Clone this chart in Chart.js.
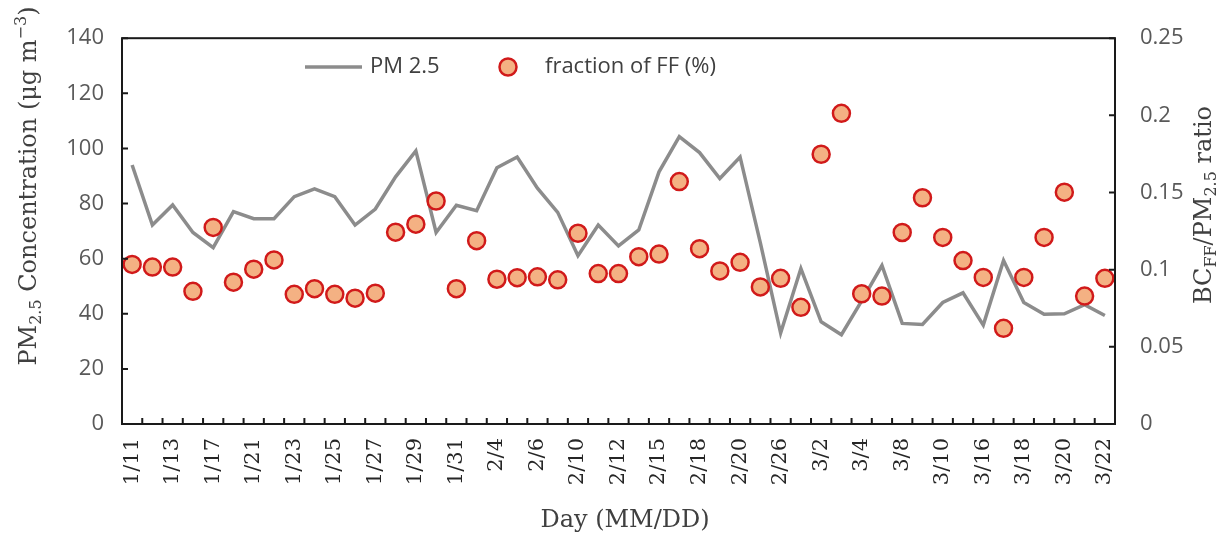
<!DOCTYPE html>
<html>
<head>
<meta charset="utf-8">
<script src="https://cdn.jsdelivr.net/npm/chart.js@4.4.1/dist/chart.umd.min.js"></script>
<style>
  html, body { margin: 0; padding: 0; background: #fff; }
  #wrap { width: 1224px; height: 540px; }
</style>
</head>
<body>
<div id="wrap"><canvas id="chart" width="1224" height="540"></canvas></div>
<script>
const days = ['1/11', '1/12', '1/13', '1/15', '1/17', '1/19', '1/21', '1/22', '1/23', '1/24',
    '1/25', '1/26', '1/27', '1/28', '1/29', '1/30', '1/31', '2/1', '2/4', '2/5',
    '2/6', '2/7', '2/10', '2/11', '2/12', '2/14', '2/15', '2/16', '2/18', '2/19',
    '2/20', '2/22', '2/26', '2/28', '3/2', '3/3', '3/4', '3/6', '3/8', '3/9',
    '3/10', '3/12', '3/16', '3/17', '3/18', '3/19', '3/20', '3/21', '3/22'];

const pm25 = [94, 72.2, 79.5, 69.5, 64, 77.1, 74.5, 74.5, 82.5, 85.3,
    82.5, 72.2, 78, 89.7, 99.1, 69.5, 79.4, 77.4, 93, 96.9,
    85.6, 76.8, 61.1, 72.2, 64.6, 70.4, 91.5, 104.3, 98.5, 89.1,
    96.9, 65.7, 33, 56.4, 37.1, 32.4, 44.7, 57.5, 36.5, 36.1,
    44.1, 47.6, 35.9, 59.3, 44.1, 39.8, 40, 43.3, 39.4];

const ffFraction = [0.1034, 0.1017, 0.1017, 0.086, 0.1274, 0.0919, 0.1003, 0.1063, 0.084, 0.0877,
    0.084, 0.0815, 0.0848, 0.1243, 0.1295, 0.1445, 0.0877, 0.1188, 0.0938, 0.0948,
    0.0954, 0.0934, 0.1236, 0.0975, 0.0975, 0.1084, 0.1101, 0.1571, 0.1136, 0.0992,
    0.1048, 0.0888, 0.0944, 0.0756, 0.1748, 0.2013, 0.0844, 0.0829, 0.1241, 0.1466,
    0.1209, 0.1059, 0.095, 0.062, 0.095, 0.1209, 0.1502, 0.0829, 0.0944];

const leftTicks = [0, 20, 40, 60, 80, 100, 120, 140];
const rightTicks = [0, 0.05, 0.1, 0.15, 0.2, 0.25];

const LINE_COLOR = '#8c8c8c';
const DOT_FILL = '#f4b183';
const DOT_EDGE = '#d11a1a';
const SERIF = '"DejaVu Serif", "Liberation Serif", serif';
const SANS = '"Open Sans", "Noto Sans", sans-serif';

// draws text made of pieces, some of them sub/superscript
const drawRich = (ctx, parts, x, y, size, rot) => {
    const small = Math.round(size * 0.66);
    const widthOf = p => {
        ctx.font = `${p.sub || p.sup ? small : size}px ${SERIF}`;
        return ctx.measureText(p.t).width;
    };
    const total = parts.reduce((s, p) => s + widthOf(p), 0);
    ctx.save();
    ctx.translate(x, y);
    ctx.rotate(rot);
    ctx.fillStyle = '#404040';
    ctx.textBaseline = 'middle';
    ctx.textAlign = 'left';
    let cx = -total / 2;
    parts.forEach(p => {
        const w = widthOf(p);
        const dy = p.sub ? size * 0.3 : p.sup ? -size * 0.35 : 0;
        ctx.fillText(p.t, cx, dy);
        cx += w;
    });
    ctx.restore();
};

const framePlugin = {
    id: 'frame',
    afterDatasetsDraw(chart) {
        const { ctx, chartArea: a } = chart;
        const n = days.length;
        ctx.save();
        ctx.strokeStyle = '#1a1a1a';
        ctx.lineWidth = 2;
        ctx.strokeRect(a.left, a.top, a.right - a.left, a.bottom - a.top);

        // inward tick marks
        ctx.beginPath();
        for (let i = 0; i <= n; i++) {
            const x = a.left + (a.right - a.left) * i / n;
            ctx.moveTo(x, a.bottom);
            ctx.lineTo(x, a.bottom - 6);
        }
        leftTicks.forEach(v => {
            const y = chart.scales.y.getPixelForValue(v);
            ctx.moveTo(a.left, y);
            ctx.lineTo(a.left + 6, y);
        });
        rightTicks.forEach(v => {
            const y = chart.scales.y2.getPixelForValue(v);
            ctx.moveTo(a.right, y);
            ctx.lineTo(a.right - 6, y);
        });
        ctx.stroke();

        // legend inside the plot
        const ly = 67;
        ctx.strokeStyle = LINE_COLOR;
        ctx.lineWidth = 3.5;
        ctx.beginPath();
        ctx.moveTo(305, ly);
        ctx.lineTo(362, ly);
        ctx.stroke();
        ctx.beginPath();
        ctx.arc(508, ly, 8.5, 0, Math.PI * 2);
        ctx.fillStyle = DOT_FILL;
        ctx.fill();
        ctx.strokeStyle = DOT_EDGE;
        ctx.lineWidth = 2.5;
        ctx.stroke();
        ctx.fillStyle = '#404040';
        ctx.font = `22px ${SANS}`;
        ctx.textBaseline = 'middle';
        ctx.textAlign = 'left';
        ctx.fillText('PM 2.5', 370, ly);
        ctx.fillText('fraction of FF (%)', 545, ly);
        ctx.restore();
    },
    afterDraw(chart) {
        const { ctx } = chart;
        drawRich(ctx, [{ t: 'PM' }, { t: '2.5', sub: true }, { t: ' Concentration (μg m' }, { t: '−3', sup: true }, { t: ')' }],
            30, 186, 24, -Math.PI / 2);
        drawRich(ctx, [{ t: 'BC' }, { t: 'FF', sub: true }, { t: '/PM' }, { t: '2.5', sub: true }, { t: ' ratio' }],
            1205, 205, 24, -Math.PI / 2);
        drawRich(ctx, [{ t: 'Day (MM/DD)' }], 625, 521, 24, 0);
    }
};

const renderChart = () => {
    const ctx = document.getElementById('chart');
    new Chart(ctx, {
        data: {
            labels: days,
            datasets: [{
                type: 'line',
                label: 'PM 2.5',
                data: pm25,
                yAxisID: 'y',
                borderColor: LINE_COLOR,
                borderWidth: 3.5,
                pointRadius: 0,
                tension: 0,
                order: 2,
            }, {
                type: 'line',
                label: 'fraction of FF (%)',
                data: ffFraction,
                yAxisID: 'y2',
                showLine: false,
                pointRadius: 8.5,
                pointBackgroundColor: DOT_FILL,
                pointBorderColor: DOT_EDGE,
                pointBorderWidth: 2.5,
                order: 1,
            }],
        },
        options: {
            responsive: false,
            animation: false,
            layout: { padding: { top: 25, left: 0, right: 0, bottom: 0 } },
            plugins: { legend: { display: false }, tooltip: { enabled: false } },
            scales: {
                x: {
                    type: 'category',
                    offset: true,
                    grid: { display: false, drawTicks: false },
                    border: { display: false },
                    afterFit: s => { s.height = 116; },
                    ticks: {
                        autoSkip: false,
                        maxRotation: 90,
                        minRotation: 90,
                        padding: 14,
                        color: '#262626',
                        font: { family: SERIF, size: 21 },
                        callback: (v, i) => (i % 2 === 0 ? days[i] : ''),
                    },
                },
                y: {
                    position: 'left',
                    min: 0,
                    max: 140,
                    grid: { display: false, drawTicks: false },
                    border: { display: false },
                    afterFit: s => { s.width = 122; },
                    afterBuildTicks: s => { s.ticks = leftTicks.map(v => ({ value: v })); },
                    ticks: {
                        padding: 18,
                        color: '#595959',
                        font: { family: SANS, size: 22 },
                    },
                },
                y2: {
                    position: 'right',
                    min: 0,
                    max: 0.25,
                    grid: { display: false, drawTicks: false },
                    border: { display: false },
                    afterFit: s => { s.width = 109; },
                    afterBuildTicks: s => { s.ticks = rightTicks.map(v => ({ value: v })); },
                    ticks: {
                        padding: 25,
                        color: '#595959',
                        font: { family: SANS, size: 22 },
                        callback: v => String(+v.toFixed(2)),
                    },
                },
            },
        },
        plugins: [framePlugin],
    });
};

document.addEventListener('DOMContentLoaded', renderChart);
</script>
</body>
</html>
